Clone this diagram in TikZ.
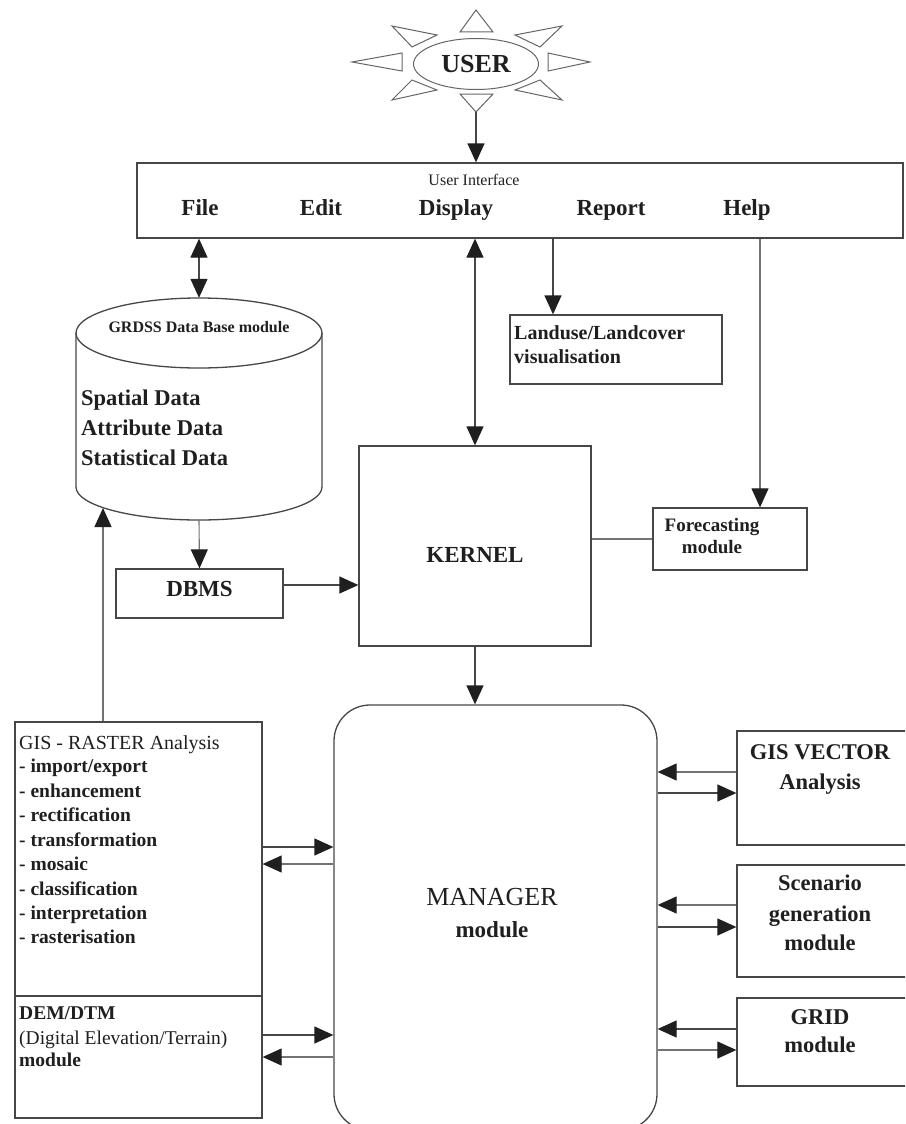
\documentclass[tikz,border=0pt]{standalone}
\usepackage{fontspec}
\setmainfont{Liberation Serif}
\usetikzlibrary{arrows.meta,shapes.geometric}
\newcommand\fsz[1]{\fontsize{#1pt}{#1pt}\selectfont}
\tikzset{
  box/.style={draw=black!72, line width=1.3pt, inner sep=0pt},
  ln/.style={draw=black!72, line width=1.3pt},
  thin/.style={draw=black!55, line width=1.1pt},
  arr/.style={ln, -{Triangle[length=19pt,width=17pt,color=black!88]}},
  tarr/.style={thin, -{Triangle[length=19pt,width=17pt,color=black!88]}},
  darr/.style={ln, {Triangle[length=19pt,width=17pt,color=black!88]}-{Triangle[length=19pt,width=17pt,color=black!88]}},
  ray/.style={draw=black!60, line width=1pt, fill=white},
  lbl/.style={inner sep=0pt, text height=0.68em, text depth=0.18em, text=black!88},
  bb/.style={lbl, font=\fsz{#1}\bfseries},
  rg/.style={lbl, font=\fsz{#1}},
}
\begin{document}
\begin{tikzpicture}[x=1pt,y=-1pt]
\useasboundingbox (0,0) rectangle (905,1124);
\clip (0,0) rectangle (905,1124);
\fill[white] (0,0) rectangle (905,1124);

% ---- USER sun ----
\draw[ray] (476,10) -- (460,32) -- (493,32) -- cycle;
\draw[ray] (476,112) -- (460,94) -- (493,94) -- cycle;
\draw[ray] (352,62) -- (402,53) -- (402,71) -- cycle;
\draw[ray] (590,62) -- (548,53) -- (548,71) -- cycle;
\draw[ray] (392,26) -- (437,35) -- (412,47) -- cycle;
\draw[ray] (562,26) -- (515,35) -- (540,47) -- cycle;
\draw[ray] (392,100) -- (412,80) -- (437,90) -- cycle;
\draw[ray] (562,100) -- (515,90) -- (540,80) -- cycle;
\node[ellipse, draw=black!60, line width=1pt, fill=white, minimum width=125pt, minimum height=51pt, inner sep=0pt, font=\fsz{26}\bfseries, text=black!88] (user) at (476,64) {USER};
\coordinate (sunb) at (476,112);

% ---- User interface ----
\node[box, minimum width=766pt, minimum height=75pt] (ui) at (520,200.5) {};
\node[rg=16] (uit) at (474,183) {User Interface};
\node[bb=23] (mfile) at (200,213) {File};
\node[bb=23] (medit) at (321,213) {Edit};
\node[bb=23] (mdisp) at (456,213) {Display};
\node[bb=23] (mrep) at (611,213) {Report};
\node[bb=23] (mhelp) at (747,213) {Help};

% ---- Database cylinder ----
\node[inner sep=0pt, minimum width=246pt, minimum height=222pt] (db) at (199,409) {};
\draw[ln, fill=white] (76,333) -- (76,487) arc[start angle=180, end angle=0, x radius=123, y radius=33] -- (322,333);
\draw[ln] (199,333) ellipse [x radius=123, y radius=35];
\node[bb=16] (dbt) at (199,330) {GRDSS Data Base module};
\node[bb=22.5, anchor=west] (sd1) at (81,403) {Spatial Data};
\node[bb=22.5, anchor=west] (sd2) at (81,433) {Attribute Data};
\node[bb=22.5, anchor=west] (sd3) at (81,463) {Statistical Data};
\coordinate (dbhit) at (103,508);

% ---- Landuse ----
\node[box, minimum width=212pt, minimum height=69pt] (land) at (616,349.5) {};
\node[bb=20, anchor=west] (land1) at (514,337) {Landuse/Landcover};
\node[bb=20, anchor=west] (land2) at (514,361) {visualisation};

% ---- Kernel, DBMS, Forecasting ----
\node[box, minimum width=232pt, minimum height=200pt] (kernel) at (475,546) {};
\node[bb=23] (kt) at (475,560) {KERNEL};
\node[box, minimum width=167pt, minimum height=49pt, bb=23] (dbms) at (199.5,593.5) {DBMS};
\node[box, minimum width=154pt, minimum height=62pt] (fc) at (730,539) {};
\node[bb=19] (fc1) at (712,529) {Forecasting};
\node[bb=19] (fc2) at (712,551) {module};

% ---- Manager ----
\node[box, rounded corners=36pt, minimum width=323pt, minimum height=425pt] (mgr) at (495.5,917.5) {};
\node[rg=26] (mg1) at (492,903) {MANAGER};
\node[bb=23] (mg2) at (492,935) {module};

% ---- Raster / DEM ----
\node[box, minimum width=247pt, minimum height=274pt] (raster) at (138.5,859) {};
\node[box, minimum width=247pt, minimum height=122pt] (dem) at (138.5,1057) {};
\node[rg=20, anchor=west] (r0) at (19,747) {GIS - RASTER Analysis};
\node[bb=19.5, anchor=west] (r1) at (19,770) {- import/export};
\node[bb=19.5, anchor=west] (r2) at (19,795) {- enhancement};
\node[bb=19.5, anchor=west] (r3) at (19,819) {- rectification};
\node[bb=19.5, anchor=west] (r4) at (19,844) {- transformation};
\node[bb=19.5, anchor=west] (r5) at (19,868) {- mosaic};
\node[bb=19.5, anchor=west] (r6) at (19,893) {- classification};
\node[bb=19.5, anchor=west] (r7) at (19,917) {- interpretation};
\node[bb=19.5, anchor=west] (r8) at (19,941) {- rasterisation};
\node[bb=19.5, anchor=west] (d1) at (19,1017) {DEM/DTM};
\node[rg=19.5, anchor=west] (d2) at (19,1042) {(Digital Elevation/Terrain)};
\node[bb=19.5, anchor=west] (d3) at (19,1064) {module};

% ---- Right boxes ----
\node[box, minimum width=175pt, minimum height=114pt] (vec) at (824.5,788) {};
\node[bb=22.5] (v1) at (820,757) {GIS VECTOR};
\node[bb=22.5] (v2) at (820,787) {Analysis};
\node[box, minimum width=175pt, minimum height=112pt] (scen) at (824.5,921) {};
\node[bb=22.5] (s1) at (820,888) {Scenario};
\node[bb=22.5] (s2) at (820,919) {generation};
\node[bb=22.5] (s3) at (820,948) {module};
\node[box, minimum width=175pt, minimum height=88pt] (grid) at (824.5,1042) {};
\node[bb=22.5] (g1) at (820,1022) {GRID};
\node[bb=22.5] (g2) at (820,1050) {module};

% ---- y levels ----
\coordinate (c772) at (0,772);
\coordinate (c793) at (0,793);
\coordinate (c905) at (0,905);
\coordinate (c927) at (0,927);
\coordinate (c1029) at (0,1029);
\coordinate (c1050) at (0,1050);
\coordinate (c847) at (0,847);
\coordinate (c864) at (0,864);
\coordinate (c1035) at (0,1035);
\coordinate (c1057) at (0,1057);
\coordinate (c585) at (0,585);
\coordinate (xrep) at (553,0);
\coordinate (xhelp) at (760,0);
\coordinate (xras) at (103,0);

% ---- Connectors ----
\draw[arr] (sunb) -- (ui.north -| sunb);
\draw[darr] (db.north |- ui.south) -- (db.north);
\draw[darr] (kernel.north |- ui.south) -- (kernel.north);
\draw[arr] (ui.south -| xrep) -- (land.north -| xrep);
\draw[tarr] (ui.south -| xhelp) -- (fc.north -| xhelp);
\draw[thin] (kernel.east |- fc.west) -- (fc.west);
\draw[tarr] (db.south) -- (dbms.north);
\draw[arr] (dbms.east |- c585) -- (kernel.west |- c585);
\draw[arr] (kernel.south) -- (mgr.north -| kernel.south);
\draw[tarr] (raster.north -| xras) -- (dbhit);

\draw[tarr] (vec.west |- c772) -- (mgr.east |- c772);
\draw[arr] (mgr.east |- c793) -- (vec.west |- c793);
\draw[tarr] (scen.west |- c905) -- (mgr.east |- c905);
\draw[arr] (mgr.east |- c927) -- (scen.west |- c927);
\draw[arr] (grid.west |- c1029) -- (mgr.east |- c1029);
\draw[tarr] (mgr.east |- c1050) -- (grid.west |- c1050);

\draw[arr] (raster.east |- c847) -- (mgr.west |- c847);
\draw[tarr] (mgr.west |- c864) -- (raster.east |- c864);
\draw[arr] (dem.east |- c1035) -- (mgr.west |- c1035);
\draw[tarr] (mgr.west |- c1057) -- (dem.east |- c1057);
\end{tikzpicture}
\end{document}
